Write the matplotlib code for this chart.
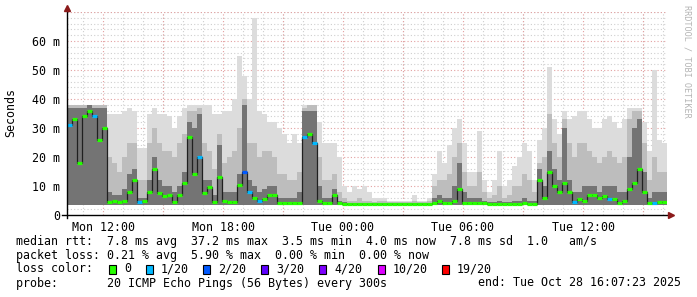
import numpy as np
import matplotlib
matplotlib.use("Agg")
import matplotlib.pyplot as plt
from matplotlib.patches import Rectangle
from matplotlib.ticker import MultipleLocator, FixedLocator, FuncFormatter

# 15 minute bins, starting Mon 10:12 (hours since Mon 00:00)
start_hour = 10.2
step_hours = 0.25

median_ms = [31, 33, 18, 34, 36, 34, 26, 30,
             4.5, 5, 4.5, 5, 8, 12, 4.5, 5,
             8, 16, 7.5, 6.5, 7, 4.5, 7, 11,
             27, 14, 20, 7.5, 9.5, 4.5, 13, 5,
             4.5, 4.5, 10.5, 15, 8, 6, 5, 5.5,
             7, 7, 4.3, 4.3, 4.2, 4.2, 4.3, 27,
             28, 25, 5, 4, 4, 7, 4, 3.9,
             3.8, 3.8, 3.8, 3.8, 3.8, 3.8, 3.7, 3.7,
             3.7, 3.7, 3.7, 3.7, 3.7, 3.7, 3.7, 3.7,
             3.7, 4, 5, 4, 4, 5, 9, 4.2,
             4, 4, 4.2, 4, 3.8, 3.8, 3.8, 3.8,
             3.8, 3.9, 3.9, 4, 3.9, 3.9, 12, 6,
             15, 10, 8, 11, 8, 4.5, 5.5, 5,
             7, 7, 6, 6.5, 5.5, 5.5, 4.2, 5,
             9, 11, 16, 8, 4, 4, 4.5, 4.5]

smoke_dark = [37, 37, 37, 37, 38, 37, 37, 37,
              8, 7, 7, 9, 14, 16, 6, 6,
              12, 20, 12, 10, 10, 8, 10, 15,
              32, 30, 35, 12, 12, 7, 24, 8,
              8, 8, 14, 38, 12, 10, 8, 9,
              10, 10, 6, 6, 6, 6, 8, 36,
              36, 36, 10, 6, 6, 9, 5, 4.5,
              4.3, 4.3, 4.3, 4.3, 4.2, 4.2, 4.2, 4.2,
              4.2, 4.1, 4.1, 4.1, 4.1, 4.2, 4.1, 4.1,
              4.2, 6, 7, 6, 6, 10, 18, 8,
              6, 6, 6, 5, 4.5, 4.5, 5, 4.5,
              4.5, 5, 5, 6, 5, 5, 16, 10,
              22, 16, 12, 30, 12, 8, 8, 10,
              10, 10, 8, 10, 10, 10, 8, 8,
              20, 30, 33, 15, 6, 8, 8, 8]

smoke_mid = [38, 38, 38, 38, 38, 38, 38, 38,
             20, 18, 15, 20, 25, 25, 12, 12,
             25, 30, 25, 22, 22, 20, 25, 28,
             36, 36, 37, 25, 22, 16, 28, 18,
             20, 22, 30, 40, 25, 25, 20, 22,
             22, 20, 14, 14, 12, 12, 15, 37,
             38, 38, 20, 12, 12, 14, 8, 6,
             5, 5, 6, 5, 5, 4.5, 4.8, 5,
             4.5, 4.5, 4.5, 4.5, 4.5, 5, 4.5, 4.5,
             5, 10, 12, 12, 14, 20, 25, 15,
             10, 10, 15, 8, 6, 7, 10, 6,
             7, 10, 10, 14, 12, 8, 18, 20,
             35, 25, 20, 33, 25, 20, 25, 25,
             22, 20, 18, 20, 22, 20, 18, 20,
             33, 36, 36, 25, 12, 20, 15, 15]

smoke_max = [38, 38, 38, 38, 38, 38, 38, 38,
             35, 35, 35, 36, 37, 36, 23, 23,
             35, 37, 35, 35, 34, 30, 34, 37,
             38, 38, 38, 38, 38, 35, 35, 36,
             36, 40, 55, 48, 40, 68, 36, 35,
             32, 32, 30, 28, 25, 28, 25, 38,
             38, 38, 32, 25, 25, 25, 20, 10,
             8, 10, 9, 10, 8, 6, 6, 6,
             5, 5, 5, 5, 5, 7, 5, 5,
             6, 14, 22, 18, 24, 30, 33, 25,
             15, 15, 29, 12, 8, 12, 22, 10,
             12, 17, 20, 25, 22, 12, 26, 30,
             51, 33, 28, 36, 33, 34, 36, 36,
             33, 30, 30, 33, 34, 32, 30, 33,
             37, 37, 37, 32, 22, 50, 26, 25]

min_rtt = 3.5

# lost pings (of 20) per bin, only the non-zero ones
loss_bins = {0: 1, 5: 1, 14: 1, 26: 1, 35: 2, 36: 1, 38: 1, 47: 1, 49: 1,
             101: 1, 108: 1, 117: 1}

loss_labels = ["0", "1/20", "2/20", "3/20", "4/20", "10/20", "19/20"]
loss_limits = [0, 1, 2, 3, 4, 10, 19]
loss_colors = ["#26ff00", "#00b8ff", "#0059ff", "#5e00ff", "#7e00ff", "#dd00ff", "#ff0000"]


def loss_color(n):
    c = loss_colors[0]
    for lim, col in zip(loss_limits, loss_colors):
        if n >= lim:
            c = col
    return c


n = len(median_ms)
edges = start_hour + step_hours * np.arange(n + 1)
med = np.array(median_ms)
lo = np.full(n, min_rtt)
loss = [loss_bins.get(i, 0) for i in range(n)]

W, H = 697, 297
fig = plt.figure(figsize=(W / 100, H / 100), dpi=100)
plt.rcParams['font.family'] = ['DejaVu Sans Mono']
ax = fig.add_axes([67 / W, 82 / H, 600 / W, 203 / H])

# smoke
ax.stairs(smoke_max, edges, baseline=lo, fill=True, color="#dcdcdc", lw=0)
ax.stairs(smoke_mid, edges, baseline=lo, fill=True, color="#bdbdbd", lw=0)
ax.stairs(smoke_dark, edges, baseline=lo, fill=True, color="#747474", lw=0)

# median
ax.stairs(med, edges, baseline=None, color="#202020", lw=0.9)
ax.hlines(med, edges[:-1], edges[1:], colors=[loss_color(v) for v in loss], lw=2.3)

ax.set_xlim(edges[0], edges[-1])
ax.set_ylim(0, 70)

ax.yaxis.set_major_locator(FixedLocator([0, 10, 20, 30, 40, 50, 60]))
ax.yaxis.set_minor_locator(MultipleLocator(2))
ax.yaxis.set_major_formatter(FuncFormatter(lambda v, p: "0" if v == 0 else "%d m" % v))

ax.xaxis.set_major_locator(FixedLocator([12, 18, 24, 30, 36]))
ax.xaxis.set_minor_locator(MultipleLocator(1))


def fmt_time(v, p):
    day = ["Mon", "Tue", "Wed"][int(v // 24)]
    return "%s %02d:00" % (day, int(v % 24))


ax.xaxis.set_major_formatter(FuncFormatter(fmt_time))

ax.set_axisbelow(True)
ax.grid(which="minor", color="#cfcfcf", linestyle=(0, (1, 2)), lw=0.8)
for h in np.arange(12, 40, 3):
    ax.axvline(h, color="#e3a0a0", linestyle=(0, (1, 2)), lw=0.8, zorder=0.6)
for v in range(10, 80, 10):
    ax.axhline(v, color="#e3a0a0", linestyle=(0, (1, 2)), lw=0.8, zorder=0.6)

for s in ax.spines.values():
    s.set_visible(False)
ax.tick_params(which="both", length=0, labelsize=8.4, colors="black")
ax.tick_params(axis="y", pad=5)
ax.tick_params(axis="x", pad=4)

# axis lines with arrows
ax.plot([-0.008, 1.006], [0, 0], transform=ax.transAxes, color="black", lw=1, clip_on=False)
ax.plot([0, 0], [-0.015, 1.02], transform=ax.transAxes, color="black", lw=1, clip_on=False)
ax.plot([1.007], [0], transform=ax.transAxes, marker=">", ms=4, color="#8b1a1a", clip_on=False)
ax.plot([0], [1.022], transform=ax.transAxes, marker="^", ms=4, color="#8b1a1a", clip_on=False)

fig.text(11 / W, 1 - 113 / H, "Seconds", rotation=90, ha="center", va="center", fontsize=8.4)
fig.text(687 / W, 1 - 5 / H, "RRDTOOL / TOBI OETIKER", rotation=270, ha="center", va="top",
         fontsize=6.1, color="#b4b4b4")


def ftext(x, y, s, **kw):
    fig.text(x / W, 1 - y / H, s, va="center", fontsize=8.4, **kw)


ftext(16, 241, "median rtt:  7.8 ms avg  37.2 ms max  3.5 ms min  4.0 ms now  7.8 ms sd  1.0   am/s")
ftext(16, 255, "packet loss: 0.21 % avg  5.90 % max  0.00 % min  0.00 % now")
ftext(16, 269, "loss color:")
box_x = [109, 146, 203, 261, 319, 378, 442]
for bx, lab, col in zip(box_x, loss_labels, loss_colors):
    fig.patches.append(Rectangle((bx / W, 1 - 274 / H), 7 / W, 9 / H, transform=fig.transFigure,
                                 facecolor=col, edgecolor="black", lw=0.8))
    ftext(bx + 15, 269, lab)
ftext(16, 283, "probe:       20 ICMP Echo Pings (56 Bytes) every 300s")
ftext(681, 283, "end: Tue Oct 28 16:07:23 2025", ha="right")

fig.savefig("out.png", dpi=100)
